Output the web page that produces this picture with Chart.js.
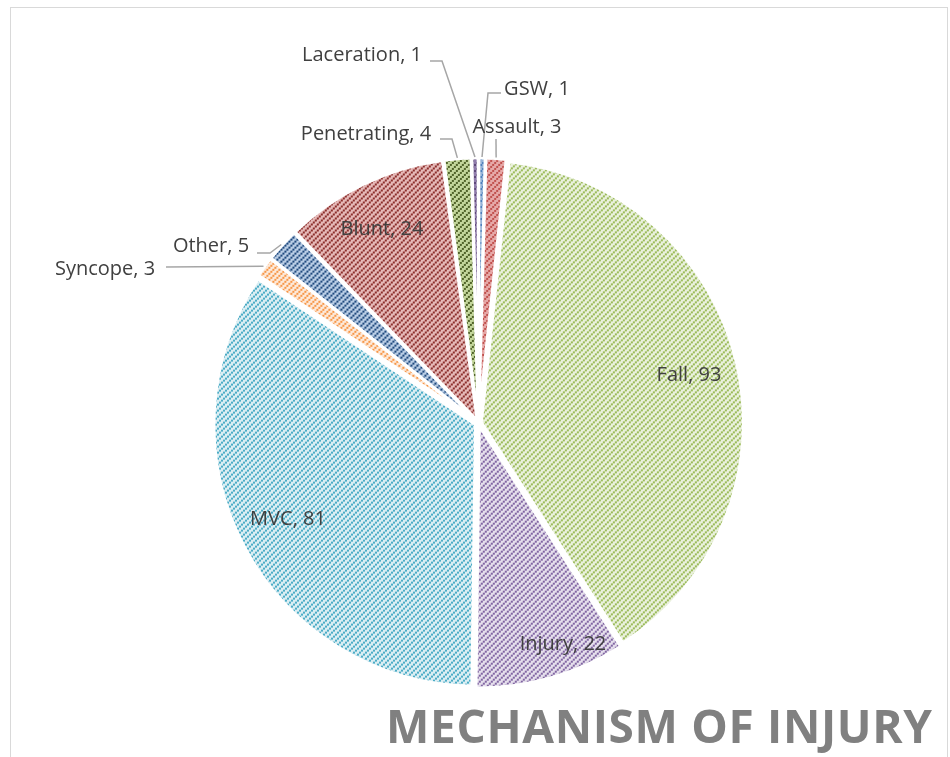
<!DOCTYPE html>
<html lang="en">
<head>
    <meta charset="UTF-8">
    <title>Mechanism of Injury</title>
    <script src="https://cdn.jsdelivr.net/npm/chart.js"></script>
    <style>
        html, body { margin: 0; padding: 0; background: #fff; overflow: hidden; }
        #wrap { position: relative; width: 950px; height: 757px; }
        #frame { position: absolute; left: 10px; top: 7px; width: 936px; height: 800px; border: 1px solid #d9d9d9; }
        #injury-chart { position: absolute; left: 0; top: 0; }
    </style>
</head>
<body>
    <div id="wrap">
        <div id="frame"></div>
        <canvas id="injury-chart" width="950" height="757"></canvas>
    </div>

    <script>
        // clockwise from 12 o'clock, same order as the sheet
        const categories = ['GSW', 'Assault', 'Fall', 'Injury', 'MVC', 'Syncope', 'Other', 'Blunt', 'Penetrating', 'Laceration'];
        const counts = [1, 3, 93, 22, 81, 3, 5, 24, 4, 1];

        // hatch colours: dots and the tint behind them
        const dotColors = ['#4f81bd', '#c0504d', '#9bbb59', '#8064a2', '#4bacc6', '#f79646', '#1f497d', '#8b2e2b', '#4f6228', '#5f497a'];
        const tintColors = ['#95b3d7', '#e6a9a8', '#eaf1dd', '#e5dfec', '#dbeef3', '#fde9d9', '#b9cde5', '#e6b9b8', '#c3d69b', '#8f7bab'];

        const chartTitle = 'MECHANISM OF INJURY';

        // label text centre x / baseline y, plus leader points on the label side
        const labelSpots = [
            { x: 537, y: 95, leader: [[501, 93], [488, 93]] },
            { x: 517, y: 133, leader: [[496, 139]] },
            { x: 689, y: 381 },
            { x: 563, y: 650 },
            { x: 288, y: 525 },
            { x: 105, y: 275, leader: [[166, 267]] },
            { x: 211, y: 252, leader: [[257, 253], [270, 253]] },
            { x: 382, y: 235 },
            { x: 366, y: 140, leader: [[440, 139], [452, 139]] },
            { x: 362, y: 61, leader: [[430, 61], [442, 61]] }
        ];

        const shift = 4; // how far every slice is pulled out
        const total = counts.reduce((a, b) => a + b, 0);

        // upward diagonal, little square steps
        function hatch(tint, dot) {
            const tile = document.createElement('canvas');
            tile.width = 6;
            tile.height = 6;
            const t = tile.getContext('2d');
            t.fillStyle = tint;
            t.fillRect(0, 0, 6, 6);
            t.fillStyle = dot;
            t.fillRect(0, 4, 2, 2);
            t.fillRect(2, 2, 2, 2);
            t.fillRect(4, 0, 2, 2);
            return t.createPattern(tile, 'repeat');
        }

        const dataLabels = {
            id: 'dataLabels',
            afterDatasetsDraw(chart) {
                const ctx = chart.ctx;
                const arcs = chart.getDatasetMeta(0).data;
                ctx.save();
                ctx.strokeStyle = '#a6a6a6';
                ctx.lineWidth = 1.5;
                arcs.forEach((arc, i) => {
                    const spot = labelSpots[i];
                    if (!spot.leader) return;
                    const mid = (arc.startAngle + arc.endAngle) / 2;
                    const r = arc.outerRadius + shift + 1;
                    ctx.beginPath();
                    ctx.moveTo(spot.leader[0][0], spot.leader[0][1]);
                    spot.leader.slice(1).forEach(p => ctx.lineTo(p[0], p[1]));
                    ctx.lineTo(arc.x + Math.cos(mid) * r, arc.y + Math.sin(mid) * r);
                    ctx.stroke();
                });
                ctx.font = '20px "Open Sans"';
                ctx.fillStyle = '#404040';
                ctx.textAlign = 'center';
                ctx.textBaseline = 'alphabetic';
                arcs.forEach((arc, i) => {
                    ctx.fillText(categories[i] + ', ' + counts[i], labelSpots[i].x, labelSpots[i].y);
                });
                ctx.restore();
            }
        };

        const titleBand = {
            id: 'titleBand',
            afterDraw(chart) {
                const ctx = chart.ctx;
                const left = 386, right = 932, base = 743;
                ctx.save();
                ctx.font = '700 46px "Open Sans"';
                ctx.fillStyle = '#808080';
                ctx.textAlign = 'left';
                ctx.textBaseline = 'alphabetic';
                const plain = ctx.measureText(chartTitle).width;
                const gap = Math.max(0, (right - left - plain) / (chartTitle.length - 1));
                ctx.letterSpacing = gap + 'px';
                ctx.fillText(chartTitle, left, base);
                ctx.restore();
            }
        };

        function renderChart() {
            const ctx = document.getElementById('injury-chart').getContext('2d');
            new Chart(ctx, {
                type: 'pie',
                data: {
                    labels: categories,
                    datasets: [{
                        data: counts,
                        backgroundColor: counts.map((v, i) => hatch(tintColors[i], dotColors[i])),
                        borderColor: '#ffffff',
                        borderWidth: 3,
                        // Chart.js moves an arc by offset/4 * (1 + fix), undo that so all move the same
                        offset: c => {
                            const sweep = counts[c.dataIndex] / total * Math.PI * 2;
                            const fix = 1 - Math.sin(Math.min(Math.PI, sweep));
                            return 4 * shift / (1 + fix);
                        }
                    }]
                },
                options: {
                    responsive: false,
                    animation: false,
                    events: [],
                    radius: 261,
                    layout: { padding: { left: 7, top: 89, right: 0, bottom: 0 } },
                    plugins: {
                        legend: { display: false },
                        tooltip: { enabled: false }
                    }
                },
                plugins: [dataLabels, titleBand]
            });
        }

        Promise.all([
            document.fonts.load('20px "Open Sans"'),
            document.fonts.load('700 46px "Open Sans"')
        ]).then(renderChart, renderChart);
    </script>
</body>
</html>
